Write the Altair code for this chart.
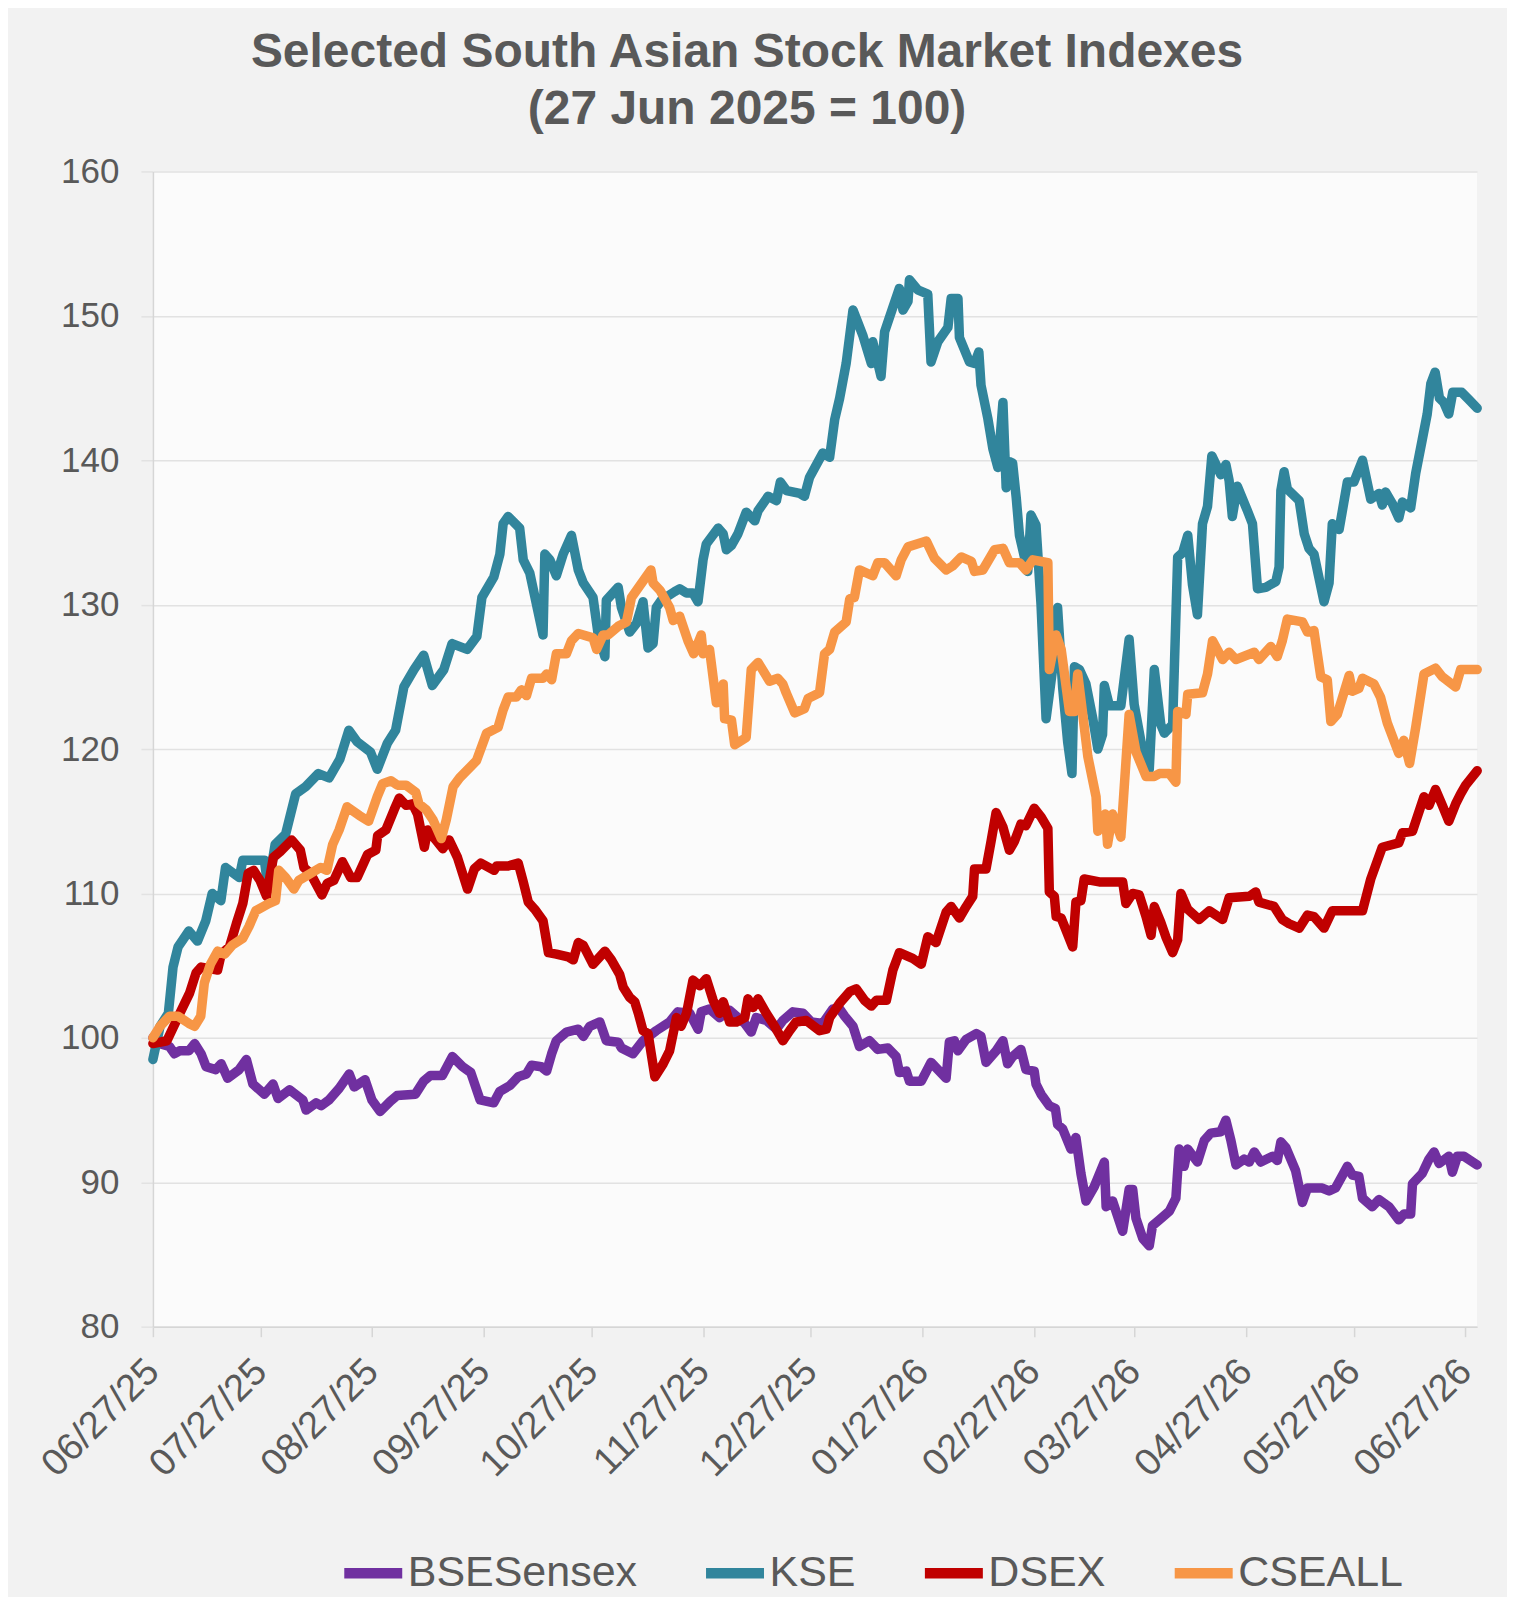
import altair as alt
import pandas as pd

START = pd.Timestamp("2025-06-27")

series_names = ["BSESensex", "KSE", "DSEX", "CSEALL"]
series_colors = ["#7030A0", "#31859C", "#C00000", "#F79646"]

# (days after 27 Jun 2025, index value)
bse = [(0, 100), (2, 99.6), (4.6, 99.4), (6, 98.9), (7.4, 99.1), (10, 99.1), (11.6, 99.6), (13.4, 98.9),
       (14.8, 98), (17.5, 97.8), (19, 98.2), (20.8, 97.2), (24, 97.8), (26, 98.5), (27.8, 96.8), (31, 96.1),
       (33.4, 96.8), (34.8, 95.8), (38, 96.4), (41.7, 95.7), (42.6, 95), (45.4, 95.5), (46.8, 95.3), (49, 95.7),
       (51.8, 96.5), (54.6, 97.5), (56, 96.6), (59, 97.1), (60.9, 95.7), (63.2, 94.9), (66, 95.6), (67.9, 96),
       (73, 96.1), (75.3, 97), (77.2, 97.4), (80.5, 97.4), (83.3, 98.7), (86.1, 98), (88.4, 97.6), (91, 95.7),
       (94.8, 95.5), (96.5, 96.3), (99.3, 96.7), (101.6, 97.3), (103.9, 97.5), (105.3, 98.1), (108, 98),
       (109.5, 97.7), (110.9, 98.9), (112.2, 99.8), (115, 100.4), (118.3, 100.6), (119.7, 100.1), (121.5, 100.8),
       (124.3, 101.1), (126.1, 99.8), (129.4, 99.7), (130.3, 99.3), (133.5, 98.9), (136.3, 99.8), (140, 100.5),
       (143.7, 101.1), (146, 101.8), (149.3, 101.7), (151.6, 100.6), (152.5, 101.8), (154.8, 102), (157.6, 101.4),
       (160.4, 101.9), (162.7, 101.4), (164.6, 101), (166.4, 100.4), (167.8, 101.4), (170.6, 101.2),
       (173.4, 100.6), (175.2, 101.2), (178, 101.8), (180.8, 101.7), (183.1, 101.1), (186.3, 101), (189.1, 102),
       (191, 102), (192.4, 101.5), (194.7, 100.8), (196.5, 99.4), (199.3, 99.8), (201.6, 99.2), (204.4, 99.3),
       (206.7, 98.7), (207.6, 97.6), (209.5, 97.7), (210.4, 97), (213.7, 97), (216.4, 98.3), (220.6, 97.2),
       (221.5, 99.7), (222.9, 99.8), (223.9, 99.1), (226.2, 99.9), (229, 100.3), (230.3, 100.1), (231.7, 98.3),
       (234.5, 99.1), (236.4, 99.8), (237.7, 98.2), (239.1, 98.7), (241.4, 99.2), (242.8, 97.8), (245.1, 97.7),
       (245.6, 96.8), (247, 96.1), (249.3, 95.3), (251, 95.1), (251.6, 94), (253, 93.7), (255.3, 92.3),
       (256.7, 93.1), (258.1, 90.6), (259.5, 88.7), (261.8, 89.7), (264.6, 91.4), (265.1, 88.3), (266.9, 88.7),
       (269.7, 86.6), (271.5, 89.5), (272.5, 89.5), (273.4, 87.5), (275.3, 86.1), (277.1, 85.6), (278, 87),
       (279.9, 87.4), (282.7, 88), (284.5, 88.9), (285.4, 92.3), (286.8, 91.1), (287.8, 92.3), (290.5, 91.4),
       (292.4, 92.9), (294.2, 93.4), (297, 93.5), (298.4, 94.3), (299.8, 92.9), (301.2, 91.2), (303.5, 91.6),
       (304.9, 91.4), (306.3, 92.1), (308.1, 91.4), (311.4, 91.8), (312.7, 91.5), (313.7, 92.8), (315.1, 92.4),
       (317.8, 90.8), (319.7, 88.6), (321.1, 89.6), (325.2, 89.6), (327.1, 89.4), (328.9, 89.6), (332.2, 91.1),
       (333.6, 90.5), (335.4, 90.4), (336.4, 88.9), (339.1, 88.3), (341, 88.8), (343.8, 88.3), (346.5, 87.4),
       (347.9, 87.8), (349.8, 87.8), (350.3, 89.9), (353, 90.6), (354.9, 91.6), (356.3, 92.1), (357.7, 91.3),
       (360.4, 91.8), (361.4, 90.7), (362.8, 91.8), (364.6, 91.8), (368.3, 91.2)]

kse = [(0, 98.5), (2, 100.8), (4.3, 101.7), (5.6, 104.9), (7, 106.3), (10, 107.4), (12.4, 106.7), (14.7, 108.1),
       (16.5, 110), (18.9, 109.5), (20.2, 111.8), (24, 111.1), (25, 112.3), (28.6, 112.3), (31, 112.3),
       (32, 110.4), (34, 113.4), (36.9, 114.1), (39.7, 116.9), (42.5, 117.4), (46, 118.3), (49, 118),
       (52, 119.3), (54.5, 121.3), (56.8, 120.5), (60.5, 119.8), (62.4, 118.6), (65.2, 120.4), (67.5, 121.3),
       (69.8, 124.3), (72.6, 125.5), (75.3, 126.5), (77.7, 124.4), (80.9, 125.5), (83.2, 127.3), (87.4, 126.9),
       (90.1, 127.8), (91.5, 130.5), (94.8, 131.9), (96.5, 133.5), (97.4, 135.6), (98.8, 136.1), (102, 135.3),
       (103, 133.1), (104.8, 132.2), (108.5, 127.9), (109, 133.5), (110.4, 133.1), (112.2, 132), (114.1, 133.5),
       (116.4, 134.8), (118.3, 132.4), (119.7, 131.5), (122.4, 130.5), (123.8, 128), (125.7, 126.4),
       (126.1, 130.3), (129.4, 131.2), (130.3, 129.8), (132.6, 128.1), (134.5, 128.7), (136.3, 130.2),
       (137.7, 127), (139.1, 127.3), (140, 129.8), (141.4, 130.3), (145.1, 130.9), (146.5, 131.1),
       (148.4, 130.8), (150.2, 130.8), (151.6, 130.2), (153, 133.1), (153.9, 134.2), (157.2, 135.3),
       (158.6, 134.9), (159.5, 133.8), (160.9, 134.1), (162.7, 134.9), (165, 136.4), (167.4, 135.8),
       (168.3, 136.5), (171.1, 137.5), (173.4, 137.2), (174.5, 138.5), (176.2, 137.9), (179.9, 137.7),
       (181.2, 137.5), (182.6, 138.8), (186.3, 140.5), (188.2, 140.2), (189.6, 142.8), (191, 144.3),
       (192.8, 146.7), (194.7, 150.4), (197.5, 148.6), (199.8, 146.7), (200.2, 148.2), (202.5, 145.8),
       (203.5, 148.9), (205.8, 150.6), (207.6, 151.9), (208.6, 150.4), (210, 151), (210.4, 152.5),
       (212.7, 151.8), (215.5, 151.5), (216.4, 146.8), (218.3, 148.2), (221.1, 149.2), (222, 151.2),
       (223.9, 151.2), (224.3, 148.5), (227.1, 146.8), (228.5, 146.7), (229.7, 147.5), (230.3, 145.2),
       (232.2, 142.9), (233.6, 140.8), (235, 139.5), (236.4, 144), (237.3, 138.1), (238.2, 139.9),
       (239.1, 139.8), (240.1, 137.4), (241, 134.8), (243.3, 132.3), (244.2, 136.2), (245.6, 135.5),
       (247, 130), (248.4, 122.1), (250.2, 125.5), (251.6, 129.8), (253, 124.3), (254.4, 120.5),
       (255.6, 118.3), (256.3, 125.7), (257.7, 125.5), (259.5, 124.5), (261.4, 122.1), (262.8, 120),
       (264.1, 121), (264.6, 124.4), (266, 123), (269.2, 123), (271.5, 127.6), (272.9, 123.1), (274.8, 120.5),
       (277.1, 118.6), (278.5, 125.5), (280.3, 121.7), (281.3, 121.1), (283.6, 121.7), (285, 133.3),
       (286.4, 133.6), (287.8, 134.8), (289.1, 131.4), (290.5, 129.3), (291.9, 135.6), (293.3, 136.8),
       (294.5, 140.3), (297, 139), (298.4, 139.7), (299.3, 138.6), (300.2, 136.1), (301.6, 138.2),
       (304.4, 136.5), (305.8, 135.6), (307.2, 131.1), (309.5, 131.2), (312.3, 131.6), (313.2, 132.6),
       (313.7, 137.9), (314.6, 139.2), (315.5, 138), (318.8, 137.2), (320.2, 134.9), (321.5, 133.9),
       (322.9, 133.5), (325.7, 130.2), (327.1, 131.5), (328, 135.6), (329.9, 135.2), (332.2, 138.5),
       (334, 138.5), (336.4, 140), (338.7, 137.3), (341, 137.7), (341.9, 136.9), (342.8, 137.8), (344.7, 137),
       (346.5, 136), (347.5, 137.1), (349.8, 136.7), (351.2, 139.1), (353, 141.4), (354.4, 143.2),
       (355.4, 145.3), (356.6, 146.1), (357.8, 144.3), (359, 144), (360.4, 143.2), (361.5, 144.7),
       (364, 144.7), (366, 144.2), (368.3, 143.6)]

dsex = [(0, 99.6), (3.9, 99.8), (7.5, 101.7), (10.2, 103.1), (12, 104.5), (13.4, 104.9), (18, 104.7),
        (19, 105.8), (21.3, 106.3), (23.2, 107.9), (25, 109.3), (26.5, 111.4), (28, 111.6), (29.8, 110.9),
        (31.6, 109.8), (33.5, 112.5), (35.4, 112.9), (38.6, 113.7), (41, 113), (42, 111.8), (43.8, 111.4),
        (47, 109.9), (48.5, 110.7), (50.3, 110.9), (52.7, 112.2), (55, 111.1), (56.8, 111.1), (59.7, 112.7),
        (62, 113), (62.5, 114), (64.8, 114.4), (67.1, 115.8), (68.5, 116.6), (70.4, 116.1), (72.2, 116.2),
        (73.6, 115.5), (75.5, 113.2), (76.4, 114.4), (78.7, 113.7), (80.6, 113.1), (82.4, 113.7),
        (84.7, 112.5), (87.5, 110.3), (89.4, 111.7), (91.2, 112.1), (94.9, 111.6), (95.6, 111.9),
        (98.8, 111.9), (101.6, 112.1), (103, 110.8), (104.4, 109.4), (106.2, 108.9), (108.5, 108.1),
        (110, 105.9), (112.2, 105.8), (115.5, 105.6), (116.9, 105.4), (118.3, 106.6), (119.7, 106.4),
        (122.4, 105.1), (125.7, 106), (127.5, 105.4), (129.8, 104.4), (130.8, 103.5), (132.6, 102.8),
        (134, 102.5), (135, 101.7), (136.3, 100.5), (137.7, 100.3), (139.6, 97.3), (141.9, 98.2),
        (143.7, 99.1), (145.6, 101.4), (146.9, 100.8), (148.4, 101.7), (150.2, 104), (152.1, 103.6),
        (153.9, 104.1), (155.8, 102.6), (157.6, 101.7), (158.6, 102.5), (160.4, 101.1), (162.3, 101.1),
        (164.6, 101.4), (165.5, 102.7), (166.9, 102.1), (168.3, 102.7), (170.6, 101.7), (172.9, 100.8),
        (175.2, 99.8), (177.1, 100.5), (178.9, 101.1), (181.7, 101.2), (185.4, 100.5), (187.3, 100.6),
        (188.2, 101.4), (191, 102.4), (193.8, 103.2), (195.6, 103.4), (197.9, 102.6), (199.8, 102.2),
        (201.2, 102.6), (204, 102.6), (205.8, 104.7), (207.6, 105.9), (211.3, 105.5), (213.7, 105.1),
        (215.5, 107), (217.8, 106.6), (220.6, 108.7), (222, 109.1), (224.3, 108.3), (226.2, 109.1),
        (228, 109.8), (228.5, 111.7), (231.7, 111.7), (233.1, 113.6), (234.5, 115.6), (236.4, 114.6),
        (238.2, 113), (239.6, 113.6), (241.4, 114.8), (242.8, 114.7), (245.1, 115.9), (247, 115.3),
        (248.9, 114.5), (249.3, 110.1), (250.7, 109.8), (251.2, 108.4), (252.6, 108.3), (255.8, 106.3),
        (256.7, 109.4), (258.1, 109.5), (259, 111), (263.2, 110.8), (269.7, 110.8), (270.6, 109.3),
        (272.5, 110), (274.3, 109.9), (276.2, 108.4), (277.6, 107.1), (278.5, 109.1), (280.3, 108),
        (281.7, 107), (283.6, 105.9), (285, 106.8), (285.9, 110), (287.8, 108.9), (290.5, 108.3),
        (291, 108.2), (293.8, 108.8), (297.5, 108.2), (299.3, 109.7), (304.9, 109.8), (306.7, 110.1),
        (307.6, 109.4), (311.8, 109.1), (314.1, 108.2), (316, 107.9), (318.8, 107.6), (321.1, 108.5),
        (322.9, 108.4), (325.7, 107.6), (328, 108.8), (336.4, 108.8), (338.7, 111), (341.9, 113.2),
        (346.5, 113.5), (347.5, 114.2), (350.3, 114.3), (353.5, 116.7), (354.9, 116.1), (356.7, 117.2),
        (358.6, 116.1), (360.4, 115), (362.3, 116.2), (363.7, 116.9), (365.1, 117.5), (368.3, 118.5)]

cseall = [(0, 100), (2, 100.8), (4.6, 101.5), (7, 101.5), (10, 101), (11.6, 100.8), (13.3, 101.5),
          (14.3, 103.8), (16, 105.1), (18, 106), (20, 105.8), (22, 106.4), (25, 106.9), (26.7, 107.7),
          (28.6, 108.8), (32.2, 109.3), (34.1, 109.5), (35, 111.6), (36.9, 111.1), (39.2, 110.3),
          (40.6, 110.9), (43.3, 111.3), (46.6, 111.8), (48.4, 111.6), (50, 113.4), (51.8, 114.4), (54, 116),
          (57.4, 115.4), (60, 115), (62.4, 116.7), (63.9, 117.6), (66.2, 117.8), (68, 117.5), (70.4, 117.5),
          (73.1, 117), (74, 116.2), (76, 115.8), (77.9, 115.1), (80.2, 113.8), (81.6, 115.1), (83.5, 117.4),
          (85.3, 118), (90, 119.2), (92.8, 121.1), (96, 121.5), (97.4, 122.7), (98.8, 123.6), (101.1, 123.6),
          (102.5, 124.1), (103.9, 123.7), (105.3, 124.9), (108.5, 124.9), (109.5, 125.2), (110.9, 124.8),
          (112.2, 126.6), (115, 126.6), (116.4, 127.5), (118.3, 128), (122.4, 127.7), (123.4, 126.9),
          (125.2, 127.9), (126.6, 127.9), (129.4, 128.5), (131.7, 128.8), (133.1, 130.5), (135.4, 131.3),
          (138.5, 132.4), (139.1, 131.5), (141, 131), (143.7, 129.8), (144.7, 128.9), (146.5, 129.2),
          (148.8, 127.5), (150.4, 126.6), (152.5, 127.9), (153, 126.6), (154.8, 126.9), (156.7, 123.2),
          (158.6, 124.5), (159, 122.1), (160.9, 122), (161.8, 120.3), (165, 120.8), (166.4, 125.5),
          (168.3, 126), (171.5, 124.7), (173.8, 124.9), (175.2, 124.5), (176.1, 123.9), (178.5, 122.5),
          (181.2, 122.8), (182.2, 123.5), (185.4, 123.9), (186.8, 126.6), (188.2, 126.9), (189.6, 128.1),
          (192.8, 128.8), (193.8, 130.4), (195.1, 130.5), (196.5, 132.4), (200.2, 132), (201.6, 132.9),
          (203.5, 132.9), (206.7, 132), (208.1, 133.1), (210, 134), (215.1, 134.4), (217.4, 133.2),
          (220.6, 132.4), (222.5, 132.7), (224.8, 133.3), (227.6, 133), (228.5, 132.3), (230.8, 132.4),
          (234.1, 133.8), (236.4, 133.9), (238.2, 132.9), (241, 132.9), (242.8, 132.4), (244.7, 133.1),
          (248.9, 132.9), (249.3, 125.5), (251.2, 127.9), (252.6, 126.9), (254.9, 122.6), (256.3, 122.6),
          (257.2, 125.2), (258.6, 122.4), (260, 119.5), (262.3, 116.7), (262.8, 114.3), (264.9, 115.5),
          (265.5, 113.4), (266.9, 115.5), (269.2, 113.9), (271.5, 122.4), (273.4, 119.8), (276.2, 118.1),
          (278.5, 118.1), (279.9, 118.3), (282.7, 118.3), (284.5, 117.7), (285, 122.6), (287.3, 122.4),
          (287.8, 123.8), (291.9, 123.9), (293.3, 125.2), (294.7, 127.5), (297.5, 126.2), (299.3, 126.7),
          (301.2, 126.2), (306.3, 126.7), (307.6, 126.2), (310.9, 127.1), (312.7, 126.4), (314.1, 127.5),
          (315.5, 129), (319.7, 128.8), (321.1, 128.1), (322.9, 128.2), (324.8, 125), (326.6, 124.8),
          (327.6, 121.9), (329.4, 122.4), (332.7, 125.1), (333.6, 124), (335.4, 124.2), (336.4, 124.9),
          (339.6, 124.5), (341.4, 123.6), (343.3, 121.8), (346.5, 119.7), (347.9, 120.6), (349.5, 119),
          (351.2, 121.5), (353.5, 125.2), (356.7, 125.6), (358.6, 125), (362.3, 124.3), (363.7, 125.5),
          (368.3, 125.5)]

tick_months = [(2025, 6), (2025, 7), (2025, 8), (2025, 9), (2025, 10), (2025, 11), (2025, 12),
               (2026, 1), (2026, 2), (2026, 3), (2026, 4), (2026, 5), (2026, 6)]
y_ticks = [80, 90, 100, 110, 120, 130, 140, 150, 160]

rows = []
for name, pts in zip(series_names, [bse, kse, dsex, cseall]):
    for d, v in pts:
        ts = START + pd.Timedelta(days=d)
        rows.append({"date": ts.strftime("%Y-%m-%dT%H:%M:%S"), "series": name, "value": v})
df = pd.DataFrame(rows)

TXT = "#595959"
GRID = "#e2e2e2"
FONT = "Liberation Sans"

x_enc = alt.X(
    "date:T",
    title=None,
    scale=alt.Scale(domain=[alt.DateTime(year=2025, month=6, date=27),
                            alt.DateTime(year=2026, month=6, date=30, hours=6)]),
    axis=alt.Axis(values=[alt.DateTime(year=y, month=m, date=27) for y, m in tick_months],
                  format="%m/%d/%y", labelAngle=315, labelAlign="right", labelBaseline="middle",
                  labelFontSize=38, labelFont=FONT, labelColor=TXT, labelPadding=29,
                  labelOverlap=False, labelFlush=False, tickSize=10, tickColor="#d6d6d6",
                  tickWidth=1.5, domainColor="#d6d6d6", domainWidth=1.5, grid=False),
)
y_enc = alt.Y(
    "value:Q",
    title=None,
    scale=alt.Scale(domain=[80, 160], nice=False, zero=False),
    axis=alt.Axis(values=y_ticks, labelFontSize=35, labelFont=FONT, labelColor=TXT, labelPadding=22,
                  tickSize=12, tickColor=GRID, tickWidth=1.5, gridColor=GRID, gridWidth=1.5,
                  domainColor="#d6d6d6", domainWidth=1.5),
)
color_enc = alt.Color(
    "series:N",
    scale=alt.Scale(domain=series_names, range=series_colors),
    legend=alt.Legend(title=None, orient="none", legendX=186, legendY=1368, direction="horizontal",
                      columns=4, symbolType="stroke", symbolSize=3364, symbolStrokeWidth=10.5,
                      labelFontSize=43, labelFont=FONT, labelColor=TXT, labelOffset=0,
                      labelLimit=500, columnPadding=47, padding=0, symbolOffset=0),
)

base = alt.Chart(df).mark_line(strokeWidth=9.5, strokeJoin="round", strokeCap="round").encode(
    x=x_enc, y=y_enc, color=color_enc
)
layers = [base.transform_filter(alt.datum.series == n) for n in series_names]

chart = alt.layer(*layers).properties(
    width=1325,
    height=1156,
    padding={"left": 145, "top": 163, "right": 30, "bottom": 270},
    autosize=alt.AutoSizeParams(type="none"),
    background="#f2f2f2",
    title=alt.TitleParams(
        text=["Selected South Asian Stock Market Indexes", "(27 Jun 2025 = 100)"],
        fontSize=48, font=FONT, fontWeight="bold", color=TXT, lineHeight=57,
        anchor="middle", dx=-68, offset=20,
    ),
).configure_view(fill="#fbfbfb", strokeWidth=0)

chart.save("out.html", embed_options={"renderer": "svg", "actions": False})
